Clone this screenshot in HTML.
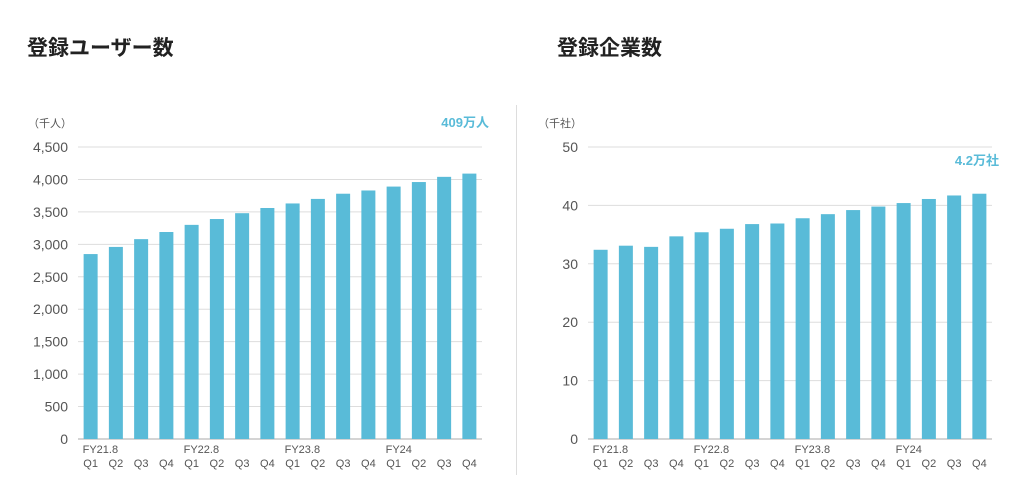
<!DOCTYPE html>
<html><head><meta charset="utf-8">
<style>
body{margin:0;width:1024px;height:481px;background:#fff;overflow:hidden;font-family:"Liberation Sans","Noto Sans CJK JP",sans-serif;}
.title{position:absolute;top:32px;font-size:21px;font-weight:bold;color:#222;font-family:"Liberation Sans","Noto Sans CJK JP",sans-serif;}
svg text{font-family:"Liberation Sans","Noto Sans CJK JP",sans-serif;}
</style></head>
<body>
<div class="title" style="left:27px">登録ユーザー数</div>
<div class="title" style="left:557px">登録企業数</div>
<div style="position:absolute;left:516px;top:105px;width:1px;height:370px;background:#ddd"></div>
<svg id="c" width="1024" height="481" style="position:absolute;left:0;top:0"></svg>
<script>
const quarters=["Q1","Q2","Q3","Q4","Q1","Q2","Q3","Q4","Q1","Q2","Q3","Q4","Q1","Q2","Q3","Q4"];
const fyLabels=["FY21.8","","","","FY22.8","","","","FY23.8","","","","FY24","","",""];
const usersValues=[2850,2960,3080,3190,3300,3390,3480,3560,3630,3700,3780,3830,3890,3960,4040,4090];
const usersTicks=[0,500,1000,1500,2000,2500,3000,3500,4000,4500];
const companiesValues=[32.4,33.1,32.9,34.7,35.4,36.0,36.8,36.9,37.8,38.5,39.2,39.8,40.4,41.1,41.7,42.0];
const companiesTicks=[0,10,20,30,40,50];
const svg=document.getElementById('c');
const NS='http://www.w3.org/2000/svg';
function mk(tag,attrs,text){const e=document.createElementNS(NS,tag);for(const k in attrs)e.setAttribute(k,attrs[k]);if(text!==undefined)e.textContent=text;svg.appendChild(e);return e;}
function chart(prefix,x0,x1,vals,ticks,unit,note,noteX,noteY){
  const yTop=147,yBot=439,max=ticks[ticks.length-1];
  const y=v=>yBot-(v/max)*(yBot-yTop);
  const bw=(x1-x0)/vals.length;
  const xc=i=>x0+bw*(i+0.5);
  ticks.forEach(t=>{
    const l=mk('line',{x1:x0,x2:x1,y1:y(t),y2:y(t),stroke:t===0?'#aaa':'#ddd','stroke-width':1});
    
    
    const tx=mk('text',{x:x0-10,y:y(t)+5,'text-anchor':'end','font-size':14,fill:'#555'},t.toLocaleString('en-US'));
    
    
  });
  vals.forEach((v,i)=>{
    const r=mk('rect',{x:xc(i)-7,y:y(v),width:14,height:yBot-y(v),fill:'#59bbd8'});
    
    
    const q=mk('text',{x:xc(i),y:467,'text-anchor':'middle','font-size':11,fill:'#555'},quarters[i]);
    
    
    if(fyLabels[i]){
      const f=mk('text',{x:xc(i)-8,y:453,'font-size':11,fill:'#555'},fyLabels[i]);
      
      
    }
  });
  const u=mk('text',{x:x0-50,y:127,'font-size':11,fill:'#555'},unit);
  
  
  const n=mk('text',{x:noteX,y:noteY,'text-anchor':'end','font-size':13,'font-weight':'bold',fill:'#59bbd8'},note);
  
  
}
chart('users',78,482,usersValues,usersTicks,'（千人）','409万人',489,127);
chart('companies',588,992,companiesValues,companiesTicks,'（千社）','4.2万社',999,165);
</script>
</body></html>
